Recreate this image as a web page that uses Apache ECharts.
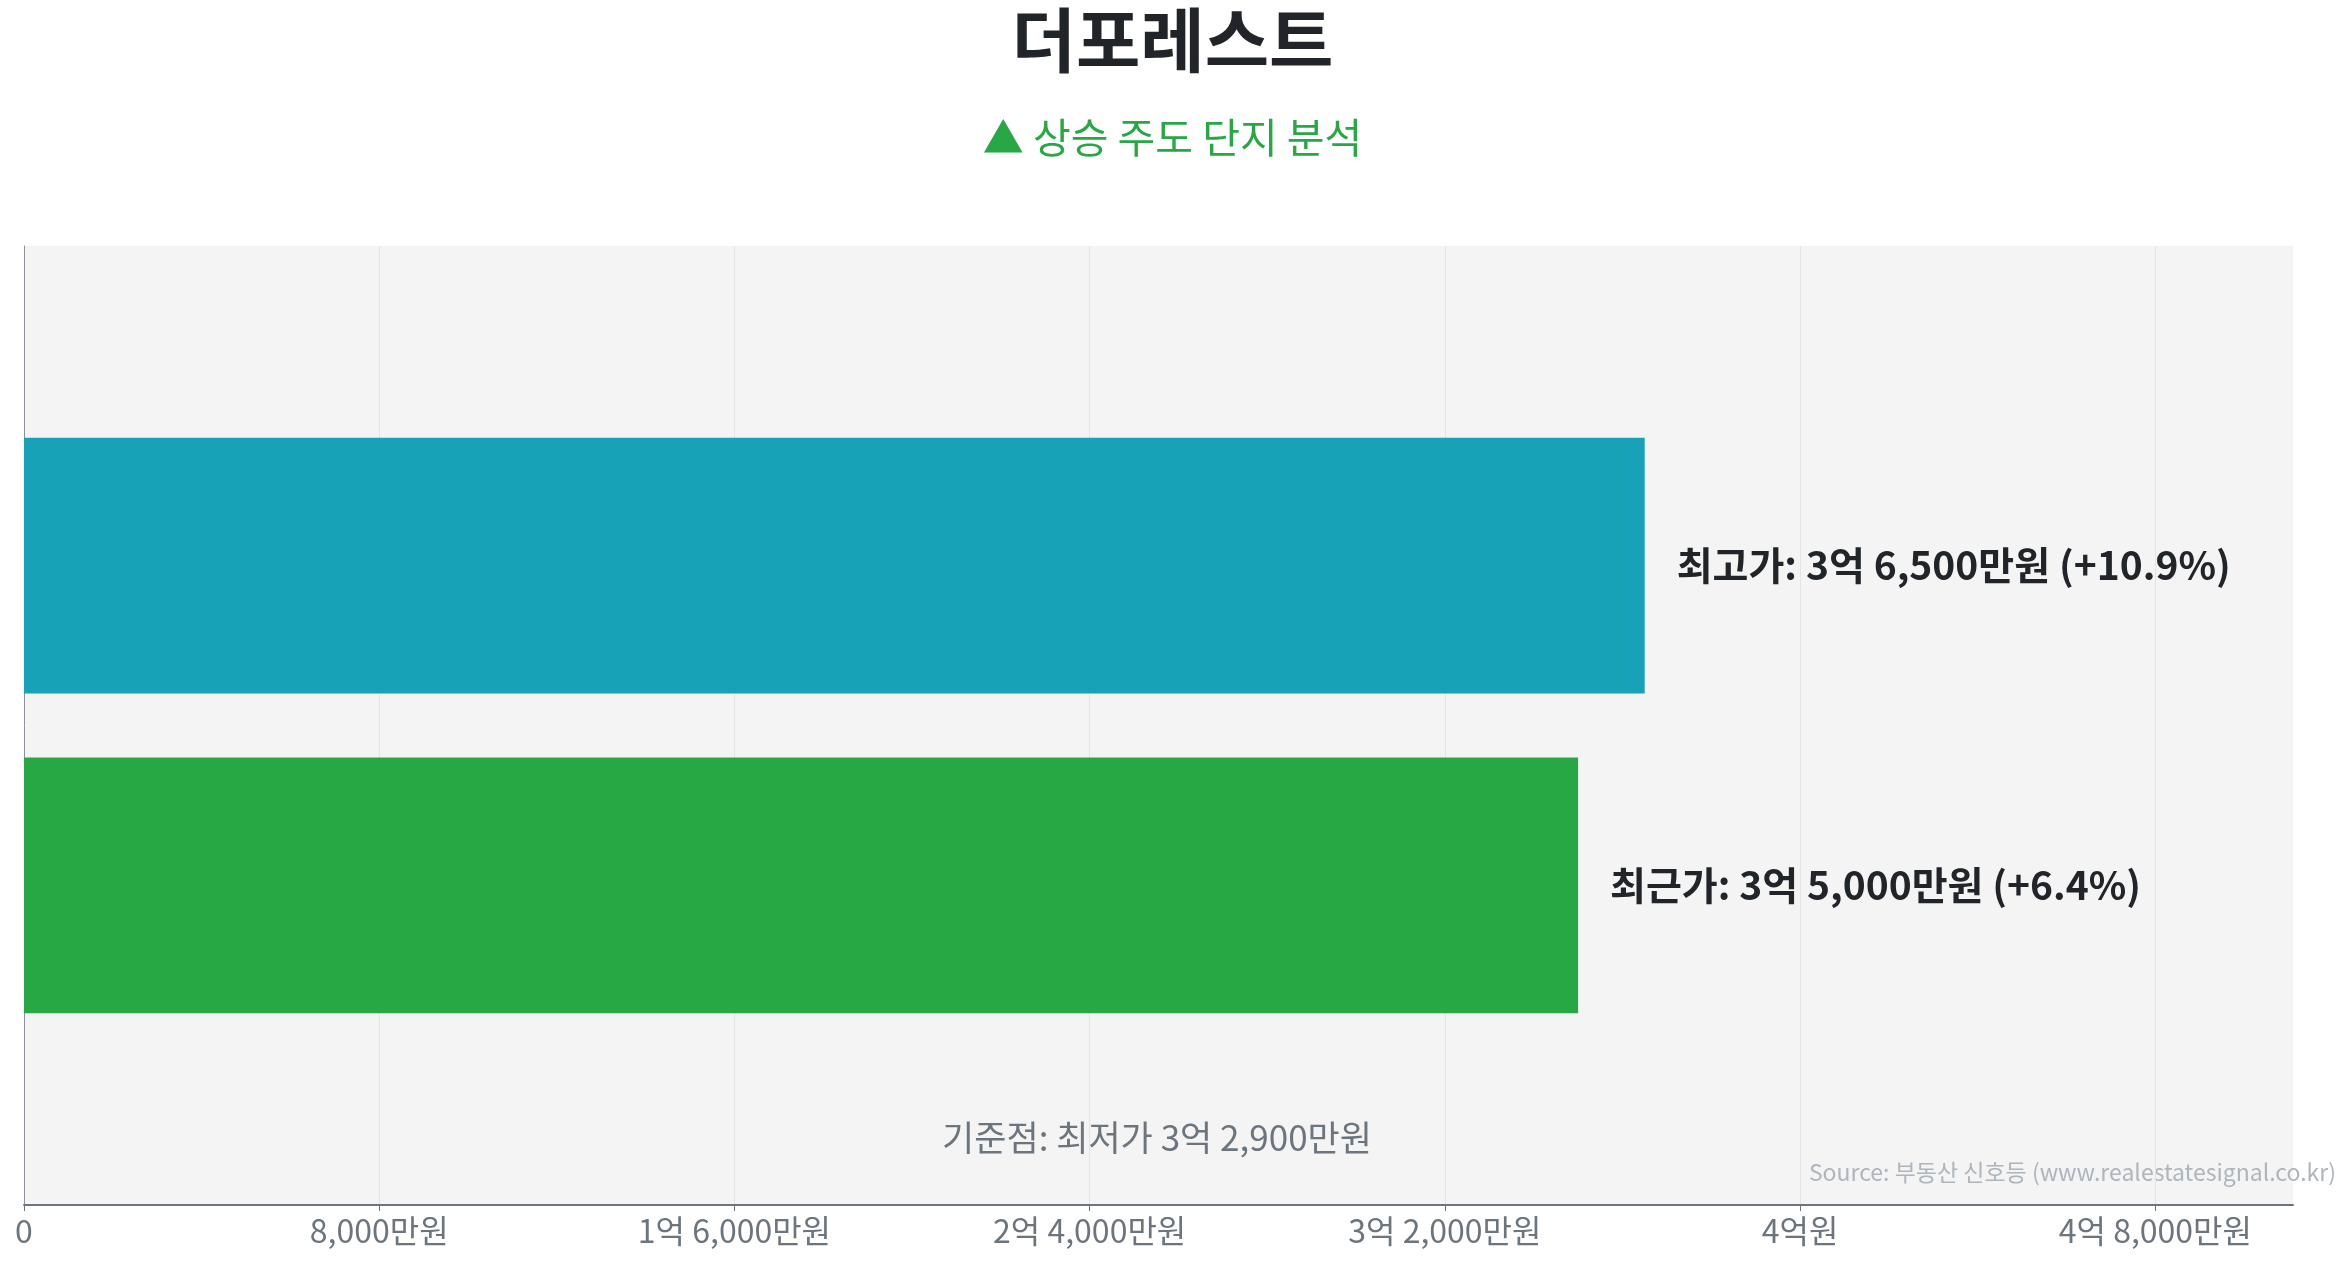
<!DOCTYPE html>
<html>
<head>
<meta charset="utf-8">
<script src="https://cdn.jsdelivr.net/npm/echarts@6/dist/echarts.min.js"></script>
<style>
  html, body { margin: 0; padding: 0; background: #fff; }
  #main { width: 2345px; height: 1268px; }
</style>
</head>
<body>
<div id="main"></div>
<script>
// 단지 정보
const complexName = '더포레스트';
const subTitle = '▲ 상승 주도 단지 분석';
const baseText = '기준점: 최저가 3억 2,900만원';
const sourceText = 'Source: 부동산 신호등 (www.realestatesignal.co.kr)';

// y축 (아래에서 위로), 양 끝은 빈 자리
const categories = ['', '최근가', '최고가', ''];
const prices = ['-', 35000, 36500, '-'];           // 만원
const barColors = [null, '#28a745', '#17a2b8', null];
const barLabels = ['', '최근가: 3억 5,000만원 (+6.4%)', '최고가: 3억 6,500만원 (+10.9%)', ''];

// x축 눈금 (만원)
const tickValues = [0, 8000, 16000, 24000, 32000, 40000, 48000];
const tickLabels = ['0', '8,000만원', '1억 6,000만원', '2억 4,000만원', '3억 2,000만원', '4억원', '4억 8,000만원'];
const axisMax = 51100;

const FONT = '"Noto Sans CJK KR", "Noto Sans", sans-serif';

var chart = echarts.init(document.getElementById('main'));

chart.setOption({
  textStyle: { fontFamily: FONT },
  title: [
    {
      text: complexName, left: 'center', top: 0,
      textStyle: { fontSize: 70, fontWeight: 'bold', color: '#212529', fontFamily: FONT }
    },
    {
      text: subTitle, left: 'center', top: 112,
      textStyle: { fontSize: 41, fontWeight: 'normal', color: '#28a745', fontFamily: FONT }
    }
  ],
  grid: {
    left: 24, right: 52, top: 246, bottom: 63,
    show: true, backgroundColor: '#f4f4f4', borderWidth: 0
  },
  xAxis: {
    type: 'value',
    min: 0,
    max: axisMax,
    interval: 8000,
    axisLine: { show: true, lineStyle: { color: '#6c757d', width: 2 } },
    axisTick: { show: true, length: 6, lineStyle: { color: '#6c757d' }, customValues: tickValues },
    axisLabel: {
      color: '#6c757d', fontSize: 32, margin: 10, fontFamily: FONT,
      customValues: tickValues,
      formatter: function (v) {
        const i = tickValues.indexOf(v);
        return i >= 0 ? tickLabels[i] : '';
      }
    },
    splitLine: { show: true, lineStyle: { color: '#e4e4e4', width: 1 } }
  },
  yAxis: {
    type: 'category',
    data: categories,
    boundaryGap: false,
    axisLine: { show: true, lineStyle: { color: '#8a90a0', width: 1 } },
    axisTick: { show: false },
    axisLabel: { show: false },
    splitLine: { show: false }
  },
  series: [
    {
      type: 'bar',
      barWidth: '80%',
      data: prices.map(function (v, i) {
        return {
          value: v,
          itemStyle: { color: barColors[i] || '#ccc' },
          label: { formatter: barLabels[i] }
        };
      }),
      label: {
        show: true,
        position: 'right',
        distance: 32,
        fontSize: 39,
        fontWeight: 'bold',
        color: '#212529',
        fontFamily: FONT
      },
      silent: true
    }
  ],
  graphic: [
    {
      type: 'text',
      x: 1157, y: 1138,
      style: {
        text: baseText, fill: '#6c757d', fontSize: 35, fontFamily: FONT,
        textAlign: 'center', textVerticalAlign: 'middle'
      }
    },
    {
      type: 'text',
      x: 2336, y: 1172,
      style: {
        text: sourceText, fill: '#adb5bd', fontSize: 23, fontFamily: FONT,
        textAlign: 'right', textVerticalAlign: 'middle'
      }
    }
  ]
});
</script>
</body>
</html>
